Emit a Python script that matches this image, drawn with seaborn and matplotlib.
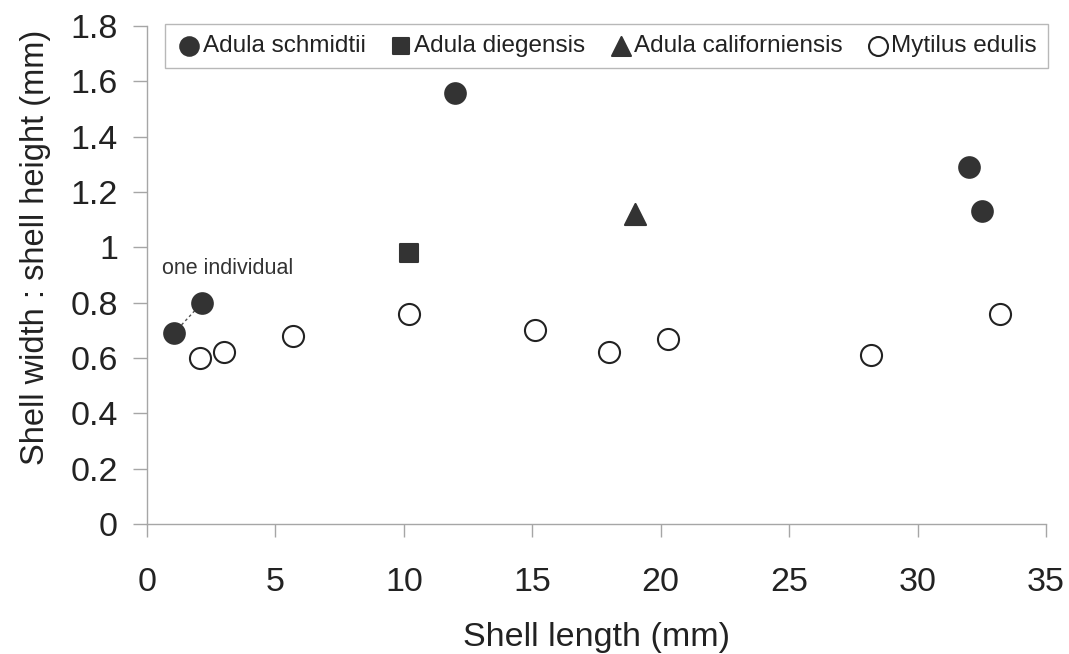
import pandas as pd
import matplotlib.pyplot as plt
import seaborn as sns

# Values
schmidtii_x = [1.05, 2.15, 12.0, 32.0, 32.5]
schmidtii_y = [0.69, 0.80, 1.56, 1.29, 1.13]
diegensis_x = [10.2]
diegensis_y = [0.98]
californiensis_x = [19.0]
californiensis_y = [1.12]
mytilus_x = [2.05, 3.0, 5.7, 10.2, 15.1, 18.0, 20.3, 28.2, 33.2]
mytilus_y = [0.60, 0.62, 0.68, 0.76, 0.70, 0.62, 0.67, 0.61, 0.76]

x_ticks = [0, 5, 10, 15, 20, 25, 30, 35]
y_ticks = [0, 0.2, 0.4, 0.6, 0.8, 1, 1.2, 1.4, 1.6, 1.8]
y_tick_labels = ["0", "0.2", "0.4", "0.6", "0.8", "1", "1.2", "1.4", "1.6", "1.8"]

sns.set_style("white")
plt.rcParams['font.family'] = ['Liberation Sans', 'DejaVu Sans']

dark = "#333333"
grey = "#a6a6a6"
txt = "#222222"

fig = plt.figure(figsize=(10.69, 6.54), dpi=100)
ax = fig.add_axes([0.1375, 0.199, 0.841, 0.761])

series = [
    ("Adula schmidtii", schmidtii_x, schmidtii_y, "o", dark, dark, 220),
    ("Adula diegensis", diegensis_x, diegensis_y, "s", dark, dark, 180),
    ("Adula californiensis", californiensis_x, californiensis_y, "^", dark, dark, 230),
    ("Mytilus edulis", mytilus_x, mytilus_y, "o", "white", "#222222", 230),
]
for name, xs, ys, mk, fc, ec, s in series:
    df = pd.DataFrame({"x": xs, "y": ys})
    sns.scatterplot(data=df, x="x", y="y", ax=ax, marker=mk, s=s,
                    color=fc, edgecolor=ec, linewidth=1.5, label=name, zorder=3)

# dashed link between the two measurements of one individual
ax.plot(schmidtii_x[:2], schmidtii_y[:2], ls=(0, (2, 2)), color="#555555",
        lw=1, zorder=2)
ax.text(0.6, 0.905, "one individual", fontsize=15.5, color="#333333")

ax.set_xlim(0, 35)
ax.set_ylim(0, 1.8)
ax.set_xticks(x_ticks)
ax.set_yticks(y_ticks)
ax.set_yticklabels(y_tick_labels)
ax.tick_params(axis="y", left=True, direction="out", length=10, width=1,
               color=grey, labelsize=24.5, pad=11, labelcolor=txt)
ax.tick_params(axis="x", bottom=True, direction="out", length=9, width=1,
               color=grey, labelsize=24.5, pad=22, labelcolor=txt)
ax.set_xlabel("Shell length (mm)", fontsize=24.5, color=txt, labelpad=17)
ax.set_ylabel("Shell width : shell height (mm)", fontsize=23.5, color=txt,
              labelpad=14)
ax.yaxis.label.set_y(0.555)

for side in ["top", "right"]:
    ax.spines[side].set_visible(False)
for side in ["left", "bottom"]:
    ax.spines[side].set_color(grey)
    ax.spines[side].set_linewidth(1)

leg = ax.legend(loc="upper right", bbox_to_anchor=(1.002, 1.004), ncol=4,
                fontsize=17.5, frameon=True, fancybox=False, handletextpad=0.0,
                columnspacing=0.9, borderpad=0.45, handlelength=1.1,
                borderaxespad=0.0, markerscale=0.9)
leg.get_frame().set_edgecolor(grey)
leg.get_frame().set_linewidth(1)
for t in leg.get_texts():
    t.set_color(txt)

fig.savefig("out.png", dpi=100)
